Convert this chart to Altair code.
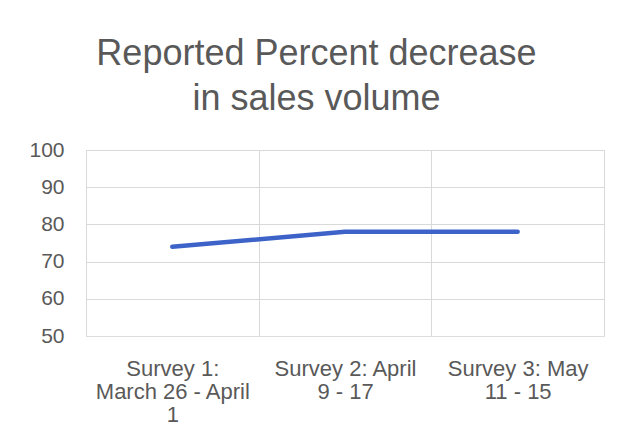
import altair as alt
import pandas as pd

categories = ["Survey 1:\nMarch 26 - April\n1", "Survey 2: April\n9 - 17", "Survey 3: May\n11 - 15"]
values = [74, 78, 78]
y_ticks = [50, 60, 70, 80, 90, 100]

df = pd.DataFrame({"survey": categories, "pct": values})

W, H = 518, 186
FONT = "Liberation Sans"
GREY = "#595959"
GRID = "#d9d9d9"

x_enc = alt.X(
    "survey:N", sort=categories, title=None,
    scale=alt.Scale(paddingInner=0, paddingOuter=0),
    axis=alt.Axis(
        orient="bottom",
        labelExpr="split(datum.label, '\\n')", labelAngle=0, labelFontSize=22,
        labelLineHeight=23, labelColor=GREY, labelFont=FONT, labelPadding=22,
        labelLimit=200, ticks=False, domain=False, grid=True, gridColor=GRID,
        tickBand="extent",
    ),
)
y_enc = alt.Y(
    "pct:Q", title=None,
    scale=alt.Scale(domain=[50, 100], nice=False, zero=False),
    axis=alt.Axis(
        orient="left",
        values=y_ticks, labelFontSize=21, labelColor=GREY, labelFont=FONT,
        labelPadding=22, ticks=False, domain=False,
        gridColor=GRID,
        gridOpacity={"condition": {"test": "datum.value == 50", "value": 0}, "value": 1},
    ),
)

line = alt.Chart(df).mark_line(color="#3d63c9", strokeWidth=4.5, strokeCap="round").encode(
    x=x_enc, y=y_enc
)

chart = line.properties(
    width=W, height=H,
    padding={"left": 20, "top": 28, "right": 10, "bottom": 5},
    title=alt.TitleParams(
        text=["Reported Percent decrease", "in sales volume"],
        fontSize=36, font=FONT, color=GREY, fontWeight="normal",
        lineHeight=45, anchor="middle", frame="bounds", offset=21,
    ),
).configure_view(stroke=None).configure(background="white")

chart.save("out.html", embed_options={"renderer": "svg", "actions": False})
